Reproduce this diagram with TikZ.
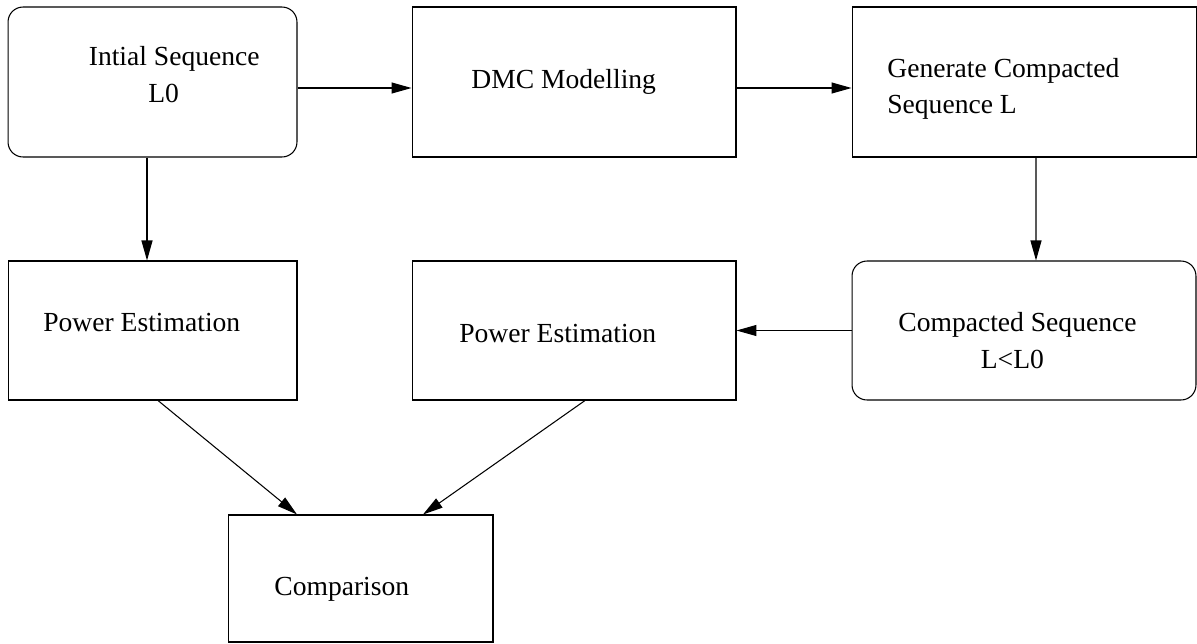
\documentclass[tikz,border=0pt]{standalone}
\usepackage{fontspec}
\setmainfont{Liberation Serif}
\usetikzlibrary{arrows.meta,positioning}

\begin{document}
\begin{tikzpicture}[x=0.02cm, y=-0.02cm,
    stage/.style={draw, line width=0.6pt, inner sep=0pt},
    roundstage/.style={stage, rounded corners=0.3cm},
    label text/.style={anchor=base west, inner sep=0pt, font=\fontsize{15.7}{19}\selectfont},
    flow/.style={-{Triangle[length=0.4cm, width=0.22cm]}, line width=0.6pt}]
    \useasboundingbox (0,0) rectangle (1197,643);
    \clip (0,0) rectangle (1197,643);

    \node[roundstage, minimum width=5.78cm, minimum height=3cm] (initial) at (152.5,82) {};
    \node[stage, minimum width=6.48cm, minimum height=3cm] (dmc) at (574,82) {};
    \node[stage, minimum width=6.9cm, minimum height=3cm] (generate) at (1024.5,82) {};
    \node[stage, minimum width=5.78cm, minimum height=2.78cm] (powerL0) at (152.5,330.5) {};
    \node[stage, minimum width=6.48cm, minimum height=2.78cm] (powerL) at (574,330.5) {};
    \node[roundstage, minimum width=6.88cm, minimum height=2.78cm] (compacted) at (1024,330.5) {};
    \node[stage, minimum width=5.3cm, minimum height=2.54cm] (comparison) at (360.5,578.5) {};

    \node[label text] (initialA) at (88.5,65) {Intial Sequence};
    \node[label text] (initialB) at (148,102) {L0};
    \node[label text] (dmcA) at (471,88) {DMC Modelling};
    \node[label text] (generateA) at (887,77) {Generate Compacted};
    \node[label text] (generateB) at (887,113) {Sequence L};
    \node[label text] (powerL0A) at (43,331) {Power Estimation};
    \node[label text] (powerLA) at (459,342) {Power Estimation};
    \node[label text] (compactedA) at (898,331) {Compacted Sequence};
    \node[label text] (compactedB) at (980.5,368) {L<L0};
    \node[label text] (comparisonA) at (274,595) {Comparison};

    \draw[flow] ([yshift=-0.12cm]initial.east) -- ([yshift=-0.12cm]dmc.west);
    \draw[flow] ([yshift=-0.12cm]dmc.east) -- ([yshift=-0.12cm]generate.west);
    \draw[flow] ([xshift=-0.11cm]initial.south) -- ([xshift=-0.11cm]powerL0.north);
    \draw[flow] ([xshift=0.23cm]generate.south) -- ([xshift=0.24cm]compacted.north);
    \draw[flow] (compacted.west) -- (powerL.east);
    \draw[flow] ([xshift=0.11cm]powerL0.south) -- ([xshift=-1.27cm]comparison.north);
    \draw[flow] ([xshift=0.22cm]powerL.south) -- ([xshift=1.25cm]comparison.north);
\end{tikzpicture}
\end{document}
